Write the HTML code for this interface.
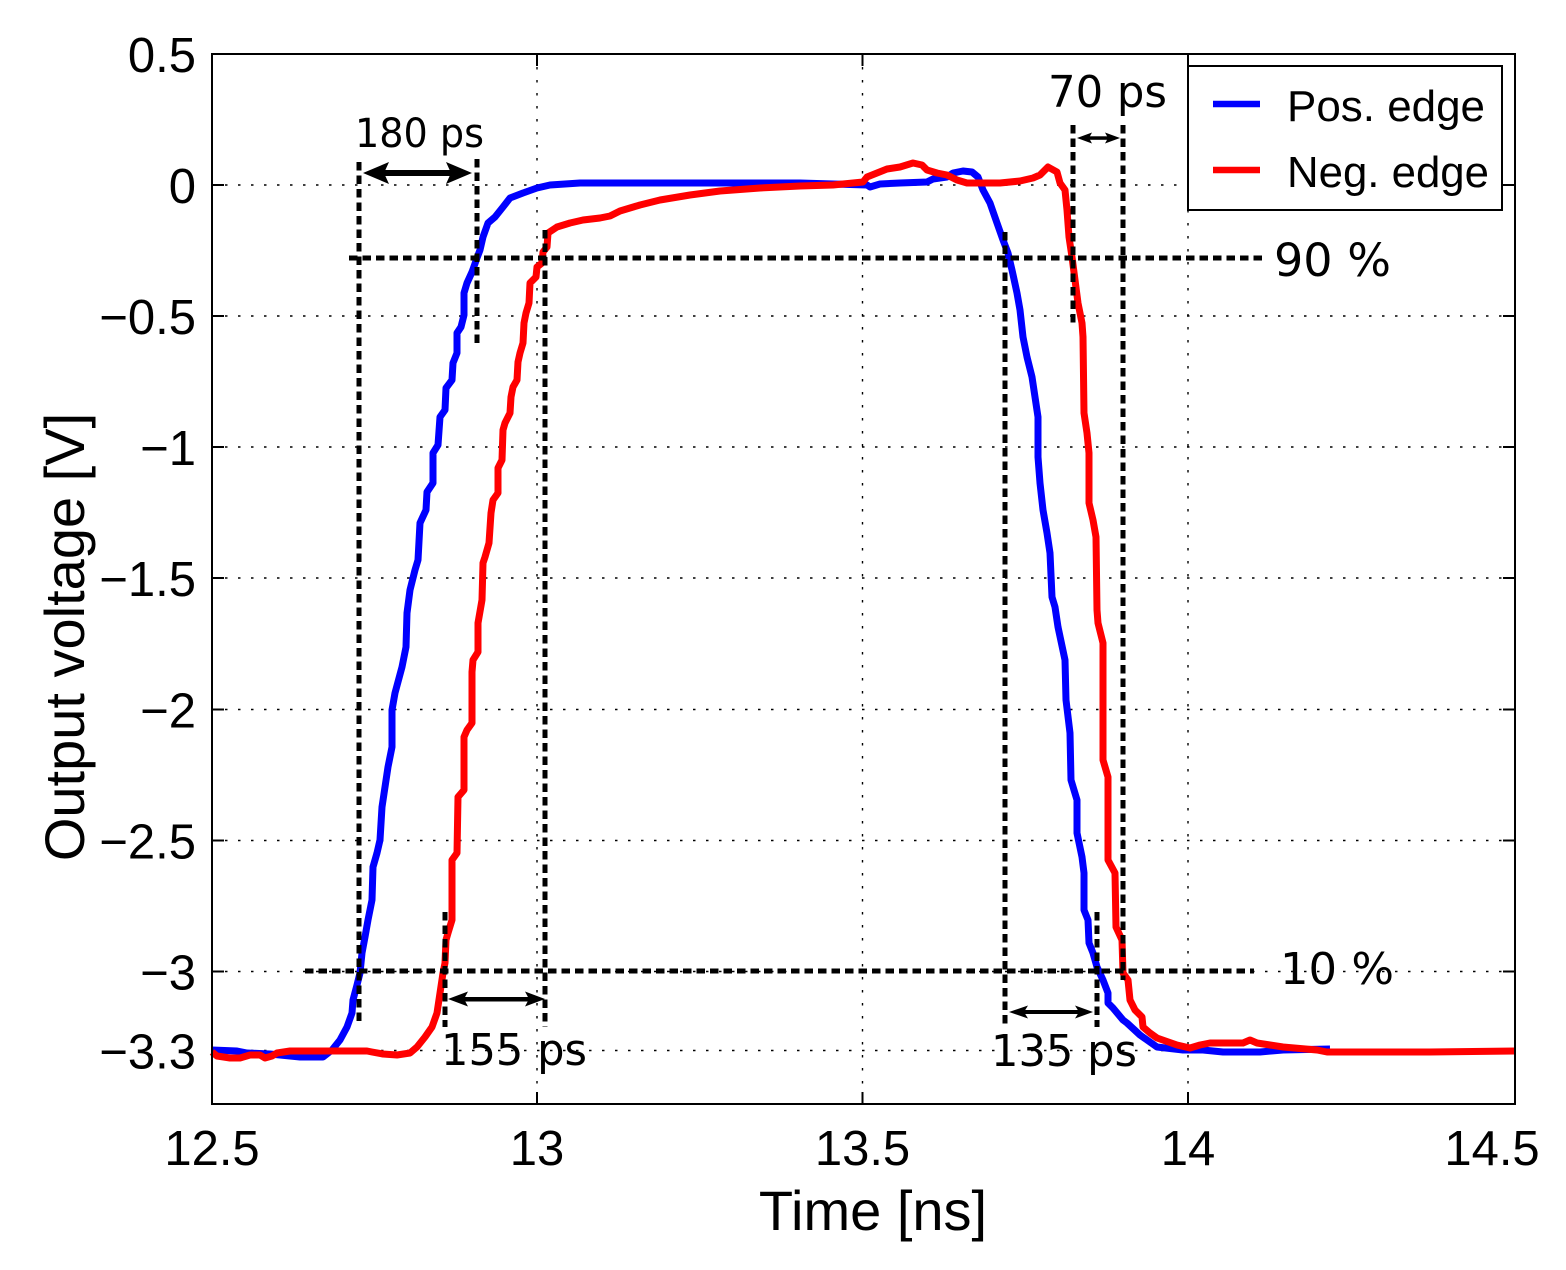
<!DOCTYPE html>
<html>
<head>
<meta charset="utf-8">
<style>
  html, body { margin: 0; padding: 0; background: #ffffff; }
  svg { display: block; }
</style>
</head>
<body>
<svg width="1566" height="1270" viewBox="0 0 1566 1270" xmlns="http://www.w3.org/2000/svg">
  <rect x="0" y="0" width="1566" height="1270" fill="#ffffff"/>

  <!-- grid -->
  <g stroke="#000" stroke-width="1.4" stroke-dasharray="2.5,10.5" fill="none">
    <line x1="537" y1="54" x2="537" y2="1104"/>
    <line x1="862.5" y1="54" x2="862.5" y2="1104"/>
    <line x1="1188" y1="54" x2="1188" y2="1104"/>
    <line x1="212" y1="185" x2="1515" y2="185"/>
    <line x1="212" y1="316" x2="1515" y2="316"/>
    <line x1="212" y1="447" x2="1515" y2="447"/>
    <line x1="212" y1="578" x2="1515" y2="578"/>
    <line x1="212" y1="709.5" x2="1515" y2="709.5"/>
    <line x1="212" y1="840.5" x2="1515" y2="840.5"/>
    <line x1="212" y1="971.5" x2="1515" y2="971.5"/>
    <line x1="212" y1="1050.5" x2="1515" y2="1050.5"/>
  </g>

  <!-- ticks -->
  <g stroke="#000" stroke-width="2" fill="none">
    <line x1="537" y1="1104" x2="537" y2="1092"/>
    <line x1="862.5" y1="1104" x2="862.5" y2="1092"/>
    <line x1="1188" y1="1104" x2="1188" y2="1092"/>
    <line x1="537" y1="54" x2="537" y2="66"/>
    <line x1="862.5" y1="54" x2="862.5" y2="66"/>
    <line x1="1188" y1="54" x2="1188" y2="66"/>
    <line x1="212" y1="185" x2="224" y2="185"/>
    <line x1="212" y1="316" x2="224" y2="316"/>
    <line x1="212" y1="447" x2="224" y2="447"/>
    <line x1="212" y1="578" x2="224" y2="578"/>
    <line x1="212" y1="709.5" x2="224" y2="709.5"/>
    <line x1="212" y1="840.5" x2="224" y2="840.5"/>
    <line x1="212" y1="971.5" x2="224" y2="971.5"/>
    <line x1="212" y1="1050.5" x2="224" y2="1050.5"/>
    <line x1="1515" y1="185" x2="1503" y2="185"/>
    <line x1="1515" y1="316" x2="1503" y2="316"/>
    <line x1="1515" y1="447" x2="1503" y2="447"/>
    <line x1="1515" y1="578" x2="1503" y2="578"/>
    <line x1="1515" y1="709.5" x2="1503" y2="709.5"/>
    <line x1="1515" y1="840.5" x2="1503" y2="840.5"/>
    <line x1="1515" y1="971.5" x2="1503" y2="971.5"/>
    <line x1="1515" y1="1050.5" x2="1503" y2="1050.5"/>
  </g>

  <!-- blue: Pos. edge -->
  <polyline fill="none" stroke="#0000ff" stroke-width="7" stroke-linejoin="round" stroke-linecap="butt"
    points="212,1050 237,1051 247,1053 270,1054 300,1057 323,1057 332,1050 340,1040 347,1027 352,1013 353,1000 357,985 360,973 362,953 365,937 368,920 372,900 373,867 377,853 380,840 382,807 385,787 388,767 392,747 392,710 395,693 402,667 406,647 407,613 410,590 415,570 418,560 420,523 426,510 427,492 433,483 433,453 438,445 440,417 445,410 446,388 452,380 453,363 457,353 457,333 461,327 464,315 464,293 467,283 472,272 477,258 480,250 483,237 488,223 495,217 503,207 510,198 523,193 537,188 550,185 580,183 600,183 800,183 867,185 870,187 880,184 900,183 927,182 933,179 947,177 953,173 963,171 972,172 978,177 983,190 990,203 997,223 1003,240 1008,253 1012,270 1017,293 1020,310 1023,337 1027,357 1032,377 1035,397 1038,417 1038,457 1040,483 1043,510 1047,533 1050,553 1052,597 1055,607 1058,627 1065,660 1066,700 1070,733 1071,780 1077,800 1077,833 1082,857 1084,873 1084,910 1088,920 1089,943 1093,953 1097,967 1103,980 1108,993 1108,1003 1113,1008 1123,1020 1127,1023 1140,1035 1157,1047 1183,1050 1203,1050 1223,1052 1260,1052 1283,1050 1330,1049"/>

  <!-- red: Neg. edge -->
  <polyline fill="none" stroke="#ff0000" stroke-width="7" stroke-linejoin="round" stroke-linecap="butt"
    points="212,1052 217,1056 230,1058 240,1058 250,1055 260,1055 265,1058 272,1056 277,1053 290,1051 330,1051 367,1051 372,1052 383,1054 397,1055 410,1053 417,1047 425,1037 432,1027 437,1013 440,993 443,973 445,963 446,940 448,933 452,920 452,860 457,853 458,797 464,790 464,737 467,730 472,723 472,672 473,660 478,652 478,623 482,600 483,563 485,557 489,543 491,513 493,500 498,493 498,468 502,460 503,430 505,423 510,413 511,397 513,387 517,380 518,362 520,353 523,343 524,323 526,313 529,303 530,283 536,277 537,267 542,263 543,252 547,247 548,233 557,227 570,223 583,220 600,218 610,216 620,211 640,205 660,200 690,195 720,191 760,188 800,186 833,185 863,182 867,177 877,173 887,169 900,167 913,163 922,165 927,170 937,173 947,175 957,180 967,183 1000,183 1020,181 1033,178 1040,175 1048,167 1057,172 1060,183 1065,190 1067,210 1069,237 1072,257 1075,280 1078,303 1082,323 1083,337 1084,413 1087,433 1089,453 1089,503 1093,520 1096,537 1097,610 1098,623 1103,643 1103,760 1108,777 1108,860 1115,873 1116,927 1122,940 1123,973 1128,980 1130,1000 1135,1010 1142,1017 1143,1027 1150,1033 1157,1038 1177,1045 1190,1048 1200,1045 1210,1043 1243,1043 1250,1040 1257,1043 1270,1045 1283,1047 1317,1050 1327,1052 1430,1052 1515,1051"/>

  <!-- annotation dashed lines -->
  <g stroke="#000" stroke-width="5" stroke-dasharray="8.5,5" fill="none">
    <line x1="359" y1="162" x2="359" y2="1025"/>
    <line x1="477" y1="159" x2="477" y2="345"/>
    <line x1="349" y1="258" x2="1262" y2="258"/>
    <line x1="545" y1="230" x2="545" y2="1027"/>
    <line x1="445" y1="912" x2="445" y2="1027"/>
    <line x1="305" y1="971" x2="1254" y2="971"/>
    <line x1="1005" y1="232" x2="1005" y2="1027"/>
    <line x1="1097" y1="912" x2="1097" y2="1027"/>
    <line x1="1073" y1="125" x2="1073" y2="327"/>
    <line x1="1123" y1="125" x2="1123" y2="980"/>
  </g>

  <!-- arrows -->
  <g fill="#000" stroke="none">
    <rect x="382" y="170" width="70" height="6"/>
    <polygon points="363,173 389,162 384,173 389,184"/>
    <polygon points="472,173 446,162 451,173 446,184"/>

    <rect x="462" y="997" width="68" height="4.5"/>
    <polygon points="448,999 468,991.5 464,999 468,1006.5"/>
    <polygon points="545,999 525,991.5 529,999 525,1006.5"/>

    <rect x="1022" y="1010" width="58" height="4"/>
    <polygon points="1009,1012 1028,1005.5 1024,1012 1028,1018.5"/>
    <polygon points="1093,1012 1075,1005.5 1079,1012 1075,1018.5"/>

    <rect x="1087" y="136.3" width="24" height="3.5"/>
    <polygon points="1077,138 1092,132.5 1089,138 1092,143.5"/>
    <polygon points="1120,138 1105,132.5 1108,138 1105,143.5"/>
  </g>

  <!-- annotation text -->
  <g font-family="'DejaVu Sans', 'Liberation Sans', sans-serif" fill="#000">
    <text x="355" y="147" font-size="40" textLength="129" lengthAdjust="spacingAndGlyphs">180 ps</text>
    <text x="1048" y="107" font-size="44" textLength="119" lengthAdjust="spacingAndGlyphs">70 ps</text>
    <text x="1274" y="276" font-size="45" textLength="117" lengthAdjust="spacingAndGlyphs">90 %</text>
    <text x="1280" y="984" font-size="44" textLength="114" lengthAdjust="spacingAndGlyphs">10 %</text>
    <text x="441" y="1065" font-size="44" textLength="146" lengthAdjust="spacingAndGlyphs">155 ps</text>
    <text x="991" y="1066" font-size="44" textLength="146" lengthAdjust="spacingAndGlyphs">135 ps</text>
  </g>

  <!-- axes box -->
  <rect x="212" y="54" width="1303" height="1050" fill="none" stroke="#000" stroke-width="2"/>

  <!-- legend -->
  <rect x="1188" y="66" width="314" height="144" fill="#ffffff" stroke="#000" stroke-width="2"/>
  <line x1="1213" y1="104" x2="1260" y2="104" stroke="#0000ff" stroke-width="6.5"/>
  <line x1="1213" y1="170" x2="1260" y2="170" stroke="#ff0000" stroke-width="6.5"/>
  <g font-family="'Liberation Sans', Arial, sans-serif" fill="#000" font-size="44">
    <text x="1287" y="121" textLength="198" lengthAdjust="spacingAndGlyphs">Pos. edge</text>
    <text x="1287" y="187" textLength="202" lengthAdjust="spacingAndGlyphs">Neg. edge</text>
  </g>

  <!-- tick labels -->
  <g font-family="'Liberation Sans', Arial, sans-serif" fill="#000" font-size="49" text-anchor="end">
    <text x="196" y="72">0.5</text>
    <text x="196" y="203">0</text>
    <text x="196" y="334">−0.5</text>
    <text x="196" y="465">−1</text>
    <text x="196" y="596">−1.5</text>
    <text x="196" y="727.5">−2</text>
    <text x="196" y="858.5">−2.5</text>
    <text x="196" y="989.5">−3</text>
    <text x="196" y="1068.5">−3.3</text>
  </g>
  <g font-family="'Liberation Sans', Arial, sans-serif" fill="#000" font-size="49" text-anchor="middle">
    <text x="212" y="1165">12.5</text>
    <text x="537" y="1165">13</text>
    <text x="862.5" y="1165">13.5</text>
    <text x="1188" y="1165">14</text>
    <text x="1492" y="1165">14.5</text>
  </g>

  <!-- axis titles -->
  <text x="873" y="1230" font-family="'Liberation Sans', Arial, sans-serif" font-size="56" text-anchor="middle" fill="#000">Time [ns]</text>
  <text transform="translate(84,637) rotate(-90)" x="0" y="0" font-family="'Liberation Sans', Arial, sans-serif" font-size="56" text-anchor="middle" fill="#000">Output voltage [V]</text>
</svg>
</body>
</html>
